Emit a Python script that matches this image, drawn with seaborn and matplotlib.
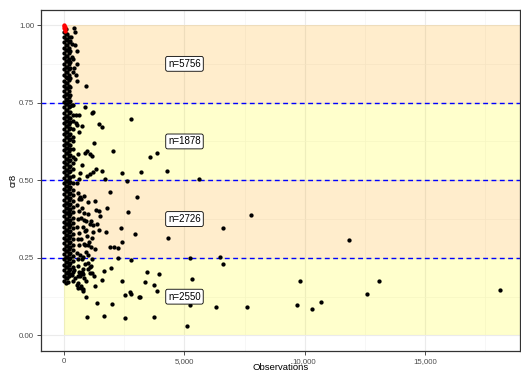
import matplotlib
matplotlib.use("Agg")
import matplotlib.pyplot as plt
from matplotlib.ticker import FuncFormatter, MultipleLocator
import pandas as pd
import seaborn as sns

# Scattered observations (count of observations vs. cr8 concentration ratio)
obs_x = [400, 440, 440, 540, 330, 360, 520, 410, 885, 510, 470, 350, 300, 280,
         330, 870, 480, 600, 1135, 1200, 2795, 470, 510, 745, 1450, 1575, 600, 1240,
         950, 1065, 1160, 855, 580, 2005, 3545, 3875, 430, 720, 1315, 1175, 1065, 950,
         650, 1550, 2395, 3195, 4275, 1700, 2615, 5610, 620,
         1895, 3020, 635, 1270, 1330, 1450, 1785, 1465, 2630, 970, 830, 1065, 1200,
         1340, 1440, 1200, 1730, 2365, 2960, 4305, 2395, 1895, 2075, 2240, 855, 995,
         1270, 650, 760, 2225, 2755, 5220, 6465, 6610, 7770, 11830, 1040, 1150, 1100,
         900, 1000, 820, 1120,
         995, 1065, 1935, 1660, 720, 785, 410, 1160, 1240, 1550, 1270, 900, 1370, 1990,
         2410, 2520, 2720, 2790, 3115, 950, 1660, 2515, 3345, 3440, 3945, 3735, 3875,
         3140, 5300, 5250, 3745, 5110, 6605, 6320, 7600, 9805, 13090, 18120, 12575,
         9665, 10305, 10690]
cr8_y = [0.991, 0.976, 0.935, 0.916, 0.898, 0.889, 0.875, 0.862, 0.803, 0.819, 0.840,
         0.850, 0.940, 0.960,
         0.742, 0.735, 0.710, 0.710, 0.716, 0.719, 0.696, 0.685, 0.678, 0.675, 0.682,
         0.671, 0.656, 0.621, 0.595, 0.585, 0.579, 0.587, 0.584, 0.595, 0.574, 0.587,
         0.568, 0.549, 0.535, 0.528, 0.520, 0.515, 0.524, 0.530, 0.524, 0.528, 0.530,
         0.503, 0.498, 0.503, 0.504,
         0.463, 0.446, 0.447, 0.433, 0.404, 0.402, 0.412, 0.386, 0.397, 0.391, 0.373,
         0.358, 0.356, 0.358, 0.340, 0.333, 0.333, 0.346, 0.327, 0.313, 0.302, 0.284,
         0.284, 0.283, 0.292, 0.290, 0.279, 0.260, 0.254, 0.248, 0.242, 0.249, 0.252,
         0.346, 0.388, 0.307, 0.300, 0.315, 0.285, 0.340, 0.430, 0.450, 0.370,
         0.233, 0.222, 0.216, 0.209, 0.204, 0.199, 0.211, 0.201, 0.193, 0.180, 0.158,
         0.124, 0.106, 0.101, 0.175, 0.131, 0.140, 0.134, 0.125, 0.061, 0.063, 0.057,
         0.171, 0.204, 0.199, 0.163, 0.144, 0.125, 0.182, 0.099, 0.061, 0.031, 0.231,
         0.091, 0.091, 0.177, 0.175, 0.146, 0.133, 0.099, 0.084, 0.108]

# Dense core of small markets, grouped by observation count
core_x0 = [0.978, 0.962, 0.945, 0.927, 0.910, 0.893, 0.874, 0.858, 0.840, 0.821, 0.805,
           0.787, 0.770, 0.752, 0.735, 0.716, 0.700, 0.683, 0.665, 0.648, 0.630, 0.612,
           0.596, 0.578, 0.560, 0.543, 0.525, 0.507, 0.490, 0.472, 0.455, 0.437, 0.420,
           0.402, 0.385, 0.367, 0.350, 0.333, 0.315, 0.298, 0.280, 0.262, 0.245, 0.228,
           0.210, 0.193, 0.176]
core_x60 = [0.986, 0.970, 0.954, 0.936, 0.919, 0.901, 0.883, 0.866, 0.849, 0.831, 0.813,
            0.796, 0.779, 0.761, 0.744, 0.726, 0.708, 0.691, 0.674, 0.656, 0.639, 0.621,
            0.604, 0.587, 0.569, 0.552, 0.534, 0.516, 0.498, 0.481, 0.464, 0.446, 0.428,
            0.411, 0.394, 0.376, 0.358, 0.341, 0.324, 0.306, 0.289, 0.271, 0.254, 0.236,
            0.219, 0.202, 0.185, 0.170]
core_x120 = [0.970, 0.953, 0.936, 0.918, 0.900, 0.884, 0.866, 0.849, 0.830, 0.813, 0.796,
             0.778, 0.760, 0.744, 0.726, 0.708, 0.691, 0.674, 0.656, 0.639, 0.621, 0.604,
             0.587, 0.569, 0.552, 0.534, 0.516, 0.498, 0.481, 0.464, 0.446, 0.428, 0.411,
             0.394, 0.376, 0.358, 0.341, 0.324, 0.306, 0.289, 0.271, 0.254, 0.236, 0.219,
             0.202, 0.185]
core_x180 = [0.962, 0.944, 0.927, 0.909, 0.892, 0.875, 0.857, 0.840, 0.822, 0.804, 0.787,
             0.769, 0.752, 0.735, 0.717, 0.700, 0.682, 0.665, 0.647, 0.630, 0.613, 0.595,
             0.578, 0.561, 0.543, 0.525, 0.507, 0.490, 0.472, 0.455, 0.437, 0.420, 0.402,
             0.385, 0.367, 0.350, 0.332, 0.315, 0.297, 0.280, 0.263, 0.245, 0.228, 0.210,
             0.193]
core_x240 = [0.950, 0.915, 0.880, 0.860, 0.830, 0.800, 0.775, 0.755, 0.738, 0.720, 0.700,
             0.687, 0.668, 0.650, 0.633, 0.615, 0.600, 0.580, 0.565, 0.547, 0.530, 0.512,
             0.495, 0.477, 0.460, 0.442, 0.425, 0.407, 0.390, 0.372, 0.355, 0.337, 0.320,
             0.302, 0.285, 0.267, 0.250, 0.232, 0.215, 0.198]
core_x380 = [0.742, 0.710, 0.690, 0.665, 0.640, 0.625, 0.600, 0.575, 0.555, 0.535, 0.515,
             0.490, 0.470, 0.452, 0.433, 0.415, 0.397, 0.380, 0.362, 0.345, 0.327, 0.310,
             0.292, 0.275, 0.257, 0.240, 0.222, 0.205]
edge_x = [520, 560, 600, 540, 620, 580, 530, 600, 560, 610, 540, 590, 570, 620, 560,
          700, 750, 820, 680, 900, 760, 850, 950, 700, 800, 900, 1000, 720, 880, 760,
          650, 820, 900, 560, 700, 780, 640, 980, 1100, 1050, 1150,
          160, 300, 440, 140, 370, 650, 745, 510, 580, 690, 760]
edge_y = [0.490, 0.460, 0.440, 0.420, 0.400, 0.375, 0.350, 0.330, 0.310, 0.290, 0.265,
          0.245, 0.225, 0.205, 0.190,
          0.440, 0.410, 0.395, 0.380, 0.370, 0.350, 0.335, 0.320, 0.310, 0.295, 0.270,
          0.260, 0.245, 0.230, 0.215, 0.190, 0.185, 0.175, 0.170, 0.160, 0.150, 0.200,
          0.215, 0.225, 0.200, 0.245,
          0.206, 0.195, 0.185, 0.171, 0.174, 0.195, 0.201, 0.163, 0.152, 0.152, 0.142]

# Highlighted markets at full concentration
hi_x = [0, 0, 0, 20, 10, 30]
hi_y = [1.000, 0.996, 0.991, 0.987, 0.982, 0.994]

# Concentration bands and their market counts
band_lo = [0.75, 0.50, 0.25, 0.00]
band_hi = [1.00, 0.75, 0.50, 0.25]
band_fill = ["orange", "yellow", "orange", "yellow"]
band_n = [5756, 1878, 2726, 2550]
cutoffs = [0.25, 0.50, 0.75]
label_x = 5000

core = [(0, core_x0), (60, core_x60), (120, core_x120), (180, core_x180),
        (240, core_x240), (380, core_x380)]
xs = list(obs_x) + list(edge_x)
ys = list(cr8_y) + list(edge_y)
for cx, cy in core:
    xs += [cx] * len(cy)
    ys += list(cy)
df = pd.DataFrame({"Observations": xs, "cr8": ys})
hi = pd.DataFrame({"Observations": hi_x, "cr8": hi_y})

sns.set_theme(style="white")
plt.rcParams["font.family"] = ["Liberation Sans", "DejaVu Sans"]

fig = plt.figure(figsize=(5.21, 3.77), dpi=100)
ax = fig.add_axes([41 / 521, 26 / 377, 479 / 521, 341.5 / 377])

x_lo, x_hi = -970, 18960
ax.set_xlim(x_lo, x_hi)
ax.set_ylim(-0.05, 1.05)

# grid (theme_bw look)
ax.set_axisbelow(True)
ax.xaxis.set_major_locator(MultipleLocator(5000))
ax.xaxis.set_minor_locator(MultipleLocator(2500))
ax.yaxis.set_major_locator(MultipleLocator(0.25))
ax.yaxis.set_minor_locator(MultipleLocator(0.125))
ax.grid(which="major", color="#EBEBEB", linewidth=0.8, zorder=0)
ax.grid(which="minor", color="#F3F3F3", linewidth=0.45, zorder=0)

for lo, hi_, col in zip(band_lo, band_hi, band_fill):
    ax.axhspan(lo, hi_, xmin=(0 - x_lo) / (x_hi - x_lo), xmax=1,
               facecolor=col, alpha=0.2, edgecolor="none", linewidth=0, zorder=1)

ax.hlines(cutoffs, x_lo, x_hi, colors="blue", linewidth=1.0,
          linestyles=[(0, (3.5, 2.5))], zorder=2.5)

sns.scatterplot(data=df, x="Observations", y="cr8", ax=ax, color="black",
                s=9.5, linewidth=0, zorder=3, legend=False)
sns.scatterplot(data=hi, x="Observations", y="cr8", ax=ax, color="red",
                s=9.5, linewidth=0, zorder=4, legend=False)

for lo, hi_, n in zip(band_lo, band_hi, band_n):
    ax.text(label_x, (lo + hi_) / 2, f"n={n}", ha="center", va="center",
            fontsize=7, color="black", zorder=5,
            bbox=dict(boxstyle="round,pad=0.25,rounding_size=0.2", fc="white",
                      ec="black", lw=0.6))

ax.xaxis.set_major_formatter(FuncFormatter(lambda v, p: f"{int(v):,}"))
ax.yaxis.set_major_formatter(FuncFormatter(lambda v, p: f"{v:.2f}"))
ax.tick_params(axis="both", which="major", labelsize=5.7, labelcolor="#4D4D4D",
               length=3, width=0.6, color="#333333", pad=2, left=True, bottom=True)
ax.tick_params(axis="both", which="minor", length=0)
ax.set_xlabel("Observations", fontsize=6.8, color="black")
ax.set_ylabel("cr8", fontsize=6.8, color="black")
ax.xaxis.label.set_va("center")
ax.yaxis.label.set_va("center")
ax.xaxis.set_label_coords(0.5, (9 - 26) / 341.5)
ax.yaxis.set_label_coords((13 - 41) / 479, 0.5)
for s in ax.spines.values():
    s.set_color("#333333")
    s.set_linewidth(0.9)

fig.savefig("out.png", dpi=100)
